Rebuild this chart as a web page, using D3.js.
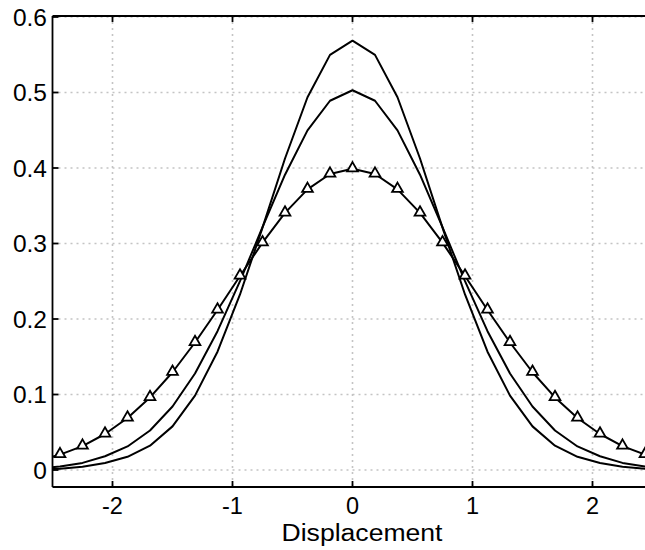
<!DOCTYPE html>
<html><head><meta charset="utf-8">
<script src="https://cdn.jsdelivr.net/npm/d3@7"></script>
<style>body{margin:0;background:#fff}</style>
</head><body>
<svg id="chart" width="645" height="550"></svg>
<script>
// sample positions (displacement), step 0.1875 from -3 to 3
const xs = [-3.0,-2.8125,-2.625,-2.4375,-2.25,-2.0625,-1.875,-1.6875,-1.5,-1.3125,-1.125,-0.9375,-0.75,-0.5625,-0.375,-0.1875,0,
            0.1875,0.375,0.5625,0.75,0.9375,1.125,1.3125,1.5,1.6875,1.875,2.0625,2.25,2.4375,2.625,2.8125,3.0];
// curve with triangle markers
const seriesTri = [0.0044,0.0076,0.0126,0.0204,0.0317,0.0477,0.0689,0.0961,0.1295,0.1689,0.2119,0.2570,0.3011,0.3405,0.3717,0.3920,0.3989,
                   0.3920,0.3717,0.3405,0.3011,0.2570,0.2119,0.1689,0.1295,0.0961,0.0689,0.0477,0.0317,0.0204,0.0126,0.0076,0.0044];
// tallest curve
const seriesHigh = [0.0002,0.0003,0.0007,0.0018,0.0042,0.0092,0.0175,0.0322,0.0578,0.0985,0.1567,0.2325,0.3210,0.4126,0.4937,0.5498,0.5686,
                    0.5498,0.4937,0.4126,0.3210,0.2325,0.1567,0.0985,0.0578,0.0322,0.0175,0.0092,0.0042,0.0018,0.0007,0.0003,0.0002];
// middle curve
const seriesMid = [0.0004,0.0009,0.0021,0.0046,0.0094,0.0182,0.0312,0.0523,0.0841,0.1279,0.1839,0.2501,0.3216,0.3911,0.4498,0.4891,0.5030,
                   0.4891,0.4498,0.3911,0.3216,0.2501,0.1839,0.1279,0.0841,0.0523,0.0312,0.0182,0.0094,0.0046,0.0021,0.0009,0.0004];
const xTicks = [-2,-1,0,1,2];
const yTicks = [0,0.1,0.2,0.3,0.4,0.5,0.6];
const xLabel = "Displacement";

const svg = d3.select("#chart");
const L = 52.5, R = 652.5, T = 16, B = 487;
const x = d3.scaleLinear().domain([-2.5, 2.5]).range([L, R]);
const y = d3.scaleLinear().domain([-0.0225, 0.6]).range([B, 17]);
const fontFam = "'Liberation Sans', Arial, Helvetica, sans-serif";

svg.append("defs").append("clipPath").attr("id","clip")
  .append("rect").attr("x",L).attr("y",T).attr("width",R-L).attr("height",B-T);

// grid
const grid = svg.append("g").attr("stroke","#c4c4c4").attr("stroke-width",1.6).attr("stroke-dasharray","2,4");
grid.selectAll(".gx").data(xTicks).join("line")
  .attr("x1",d=>x(d)).attr("x2",d=>x(d)).attr("y1",T).attr("y2",B);
grid.selectAll(".gy").data(yTicks).join("line")
  .attr("y1",d=>y(d)).attr("y2",d=>y(d)).attr("x1",L).attr("x2",R);

// curves
const plot = svg.append("g").attr("clip-path","url(#clip)");
const line = d3.line().x((d,i)=>x(xs[i])).y(d=>y(d));
[seriesHigh, seriesMid, seriesTri].forEach(s=>{
  plot.append("path").datum(s).attr("d",line).attr("fill","none")
    .attr("stroke","#000").attr("stroke-width",2).attr("stroke-linejoin","round");
});
const tri = d3.symbol().type(d3.symbolTriangle).size(50);
plot.selectAll(".m").data(seriesTri).join("path")
  .attr("transform",(d,i)=>`translate(${x(xs[i])},${y(d)-0.5})`)
  .attr("d",tri).attr("fill","#fff").attr("stroke","#000").attr("stroke-width",1.8);

// axes (box: left, top, bottom; right is cropped)
const ax = svg.append("g").attr("stroke","#000").attr("stroke-width",1.8).attr("fill","none");
ax.append("line").attr("x1",L).attr("x2",645).attr("y1",T).attr("y2",T);
ax.append("line").attr("x1",L).attr("x2",645).attr("y1",B).attr("y2",B);
ax.append("line").attr("x1",L).attr("x2",L).attr("y1",T).attr("y2",B);
const tk = 6;
xTicks.forEach(t=>{
  ax.append("line").attr("x1",x(t)).attr("x2",x(t)).attr("y1",B).attr("y2",B-tk);
  ax.append("line").attr("x1",x(t)).attr("x2",x(t)).attr("y1",T).attr("y2",T+tk);
});
yTicks.forEach(t=>{
  ax.append("line").attr("x1",L).attr("x2",L+tk).attr("y1",y(t)).attr("y2",y(t));
});

// tick labels
svg.selectAll(".xt").data(xTicks).join("text")
  .attr("x",d=>x(d)).attr("y",514).attr("text-anchor","middle")
  .attr("font-family",fontFam).attr("font-size",23.5).text(d=>d);
svg.selectAll(".yt").data(yTicks).join("text")
  .attr("x",47).attr("y",d=>y(d)+8.5).attr("text-anchor","end")
  .attr("font-family",fontFam).attr("font-size",24.5).text(d=>d===0?"0":d.toFixed(1));
svg.append("text").attr("x",362).attr("y",541).attr("text-anchor","middle")
  .attr("font-family",fontFam).attr("font-size",23)
  .attr("textLength",161).attr("lengthAdjust","spacingAndGlyphs").text(xLabel);
</script>
</body></html>
